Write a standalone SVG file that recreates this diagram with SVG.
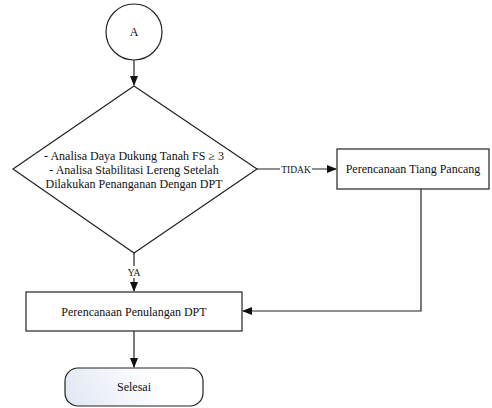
<svg xmlns="http://www.w3.org/2000/svg" width="492" height="408" viewBox="0 0 492 408" font-family="Liberation Serif, Times New Roman, serif">
<style>
.s{fill:#fff;stroke:#222;stroke-width:1.2}
.t{font-size:12px;fill:#111;text-anchor:middle}
.l{font-size:9.5px;fill:#111;text-anchor:middle}
.c{fill:none;stroke:#222;stroke-width:1.2}
</style>
<defs>
<marker id="ar" markerWidth="10" markerHeight="8" refX="9" refY="4" orient="auto" markerUnits="userSpaceOnUse">
<path d="M0,0 L10,4 L0,8 Z" fill="#111"/>
</marker>
<linearGradient id="g" gradientUnits="userSpaceOnUse" x1="175" y1="368" x2="80" y2="420">
<stop offset="0.2" stop-color="#ffffff"/>
<stop offset="1" stop-color="#e2e8f3"/>
</linearGradient>
</defs>
<g id="connectors">
<path class="c" d="M134,60 V85" marker-end="url(#ar)"/>
<path class="c" d="M257,169 H336" marker-end="url(#ar)"/>
<path class="c" d="M134,253 V291" marker-end="url(#ar)"/>
<path class="c" d="M421,189 V311 H243" marker-end="url(#ar)"/>
<path class="c" d="M134,331 V367" marker-end="url(#ar)"/>
<rect x="280" y="163" width="32" height="12" fill="#fff"/>
<text class="l" x="296" y="172.5">TIDAK</text>
<rect x="127" y="266" width="14" height="12" fill="#fff"/>
<text class="l" x="134" y="275.5">YA</text>
</g>
<g id="nodeA">
<circle class="s" cx="134" cy="32" r="28"/>
<text class="t" x="134" y="36">A</text>
</g>
<g id="decision">
<path class="s" d="M134,86 L257,169 L134,253 L13,169 Z"/>
<text class="t" x="134" y="160">- Analisa Daya Dukung Tanah FS ≥ 3</text>
<text class="t" x="134" y="174">- Analisa Stabilitasi Lereng Setelah</text>
<text class="t" x="134" y="188">Dilakukan Penanganan Dengan DPT</text>
</g>
<g id="tiang">
<rect class="s" x="337" y="149" width="152" height="40"/>
<text class="t" x="413" y="173">Perencanaan Tiang Pancang</text>
</g>
<g id="penulangan">
<rect class="s" x="26" y="292" width="216" height="39"/>
<text class="t" x="134" y="316">Perencanaan Penulangan DPT</text>
</g>
<g id="selesai">
<rect x="65" y="368" width="138" height="38" rx="13" fill="url(#g)" stroke="#222" stroke-width="1.2"/>
<text class="t" x="134" y="391">Selesai</text>
</g>
</svg>
